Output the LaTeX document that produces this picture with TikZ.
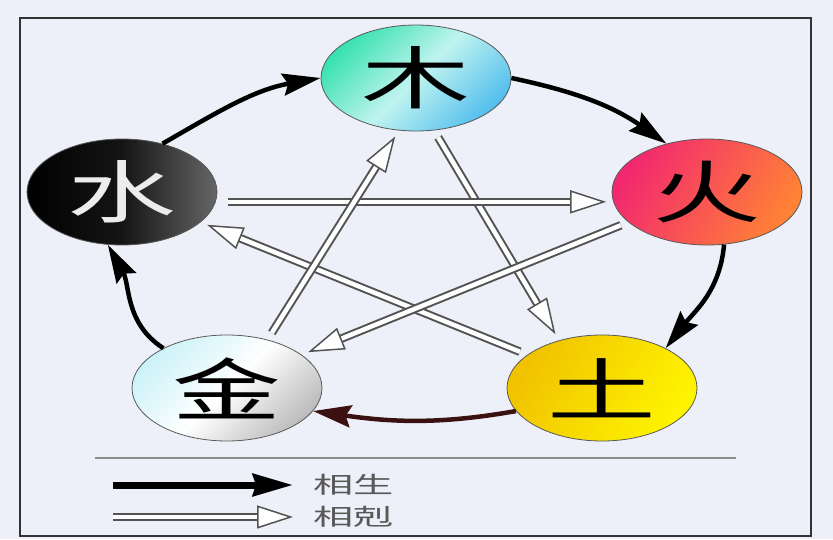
\documentclass[tikz,border=0pt]{standalone}
\usepackage{fontspec}
\newfontfamily\cjk{Noto Sans CJK SC}
\usetikzlibrary{arrows.meta, positioning, shapes.geometric}

\definecolor{bgcol}{HTML}{EDF0F8}
\definecolor{muA}{HTML}{3AE2B0}
\definecolor{muB}{HTML}{BFF3EF}
\definecolor{muC}{HTML}{55BFEE}
\definecolor{huoA}{HTML}{F2286F}
\definecolor{huoB}{HTML}{FF8236}
\definecolor{tuA}{HTML}{F0C200}
\definecolor{tuB}{HTML}{FFF400}
\definecolor{jinA}{HTML}{CBF2F8}
\definecolor{jinB}{HTML}{BDBDBD}
\definecolor{kinred}{HTML}{3A1010}

\newcommand{\zi}[2][1.6]{\scalebox{#1}[1]{#2}}

\begin{document}
\begin{tikzpicture}[
    x=1pt, y=1pt,
    element/.style={ellipse, draw=gray!70!black, line width=0.8pt, minimum width=190pt, minimum height=106pt, inner sep=0pt, font=\cjk\fontsize{68}{68}\selectfont},
    sheng/.style={line width=4.5pt, -{Stealth[length=38pt, width=22pt, inset=5pt]}},
    ke/.style={draw=gray!65!black, line width=2pt, double=white, double distance=4.5pt, shorten <=8pt, shorten >=7pt, -{Triangle[length=36pt, width=23pt, fill=white, line width=1.5pt]}},
    legend/.style={font=\cjk\fontsize{23}{23}\selectfont, text=black!65, inner sep=0pt}
]
\path[use as bounding box, fill=bgcol] (0,0) rectangle (833,539);
\draw[line width=2.5pt, draw=black!80] (20,3) rectangle (811,521);

% Five elements
\node[element, top color=muA, bottom color=muC, middle color=muB, shading angle=45] (mu) at (416,461) {\zi{木}};
\node[element, top color=huoA, bottom color=huoB, shading angle=60] (huo) at (707,347) {\zi{火}};
\node[element, top color=tuA, bottom color=tuB, shading angle=60] (tu) at (602,151) {\zi{土}};
\node[element, top color=jinA, bottom color=jinB, middle color=white, shading angle=45] (jin) at (227,151) {\zi{金}};
\node[element, left color=black, right color=black!60, middle color=black!92, text=white!85!gray] (shui) at (122,347) {\zi{水}};

% Generating cycle
\draw[sheng] (shui.50) to[out=30, in=190] (mu.west);
\draw[sheng] (mu.east) to[out=-12, in=145] (huo.130);
\draw[sheng] (huo.-72) to[out=-95, in=52] (tu.32);
\draw[sheng, draw=kinred] (tu.195) to[out=190, in=-8] (jin.-15);
\draw[sheng] (jin.148) to[out=147, in=-61] (shui.-105);

% Overcoming cycle
\draw[ke] (mu.-71) -- (tu.132);
\draw[ke] (tu.156) -- (shui.-21);
\draw[ke, shorten <=12pt] (shui.-6) -- (huo.186);
\draw[ke] (huo.201) -- (jin.24);
\draw[ke] (jin.50) -- (mu.-108);

% Legend
\coordinate (sepL) at (95,81);
\coordinate (sepR) at (736,81);
\draw[black!45, line width=1.2pt] (sepL) -- (sepR);
\coordinate (shengL) at (113,54);
\coordinate (shengR) at (293,54);
\draw[sheng, line width=7pt, -{Stealth[length=40pt, width=22pt, inset=3pt]}] (shengL) -- (shengR);
\node[legend, right=20pt of shengR] (shengtext) {\zi[1.75]{相生}};
\coordinate (keL) at (113,22);
\coordinate (keR) at (293,22);
\draw[ke, shorten <=0pt, shorten >=0pt] (keL) -- (keR);
\node[legend, right=20pt of keR] (ketext) {\zi[1.75]{相剋}};

\end{tikzpicture}
\end{document}
